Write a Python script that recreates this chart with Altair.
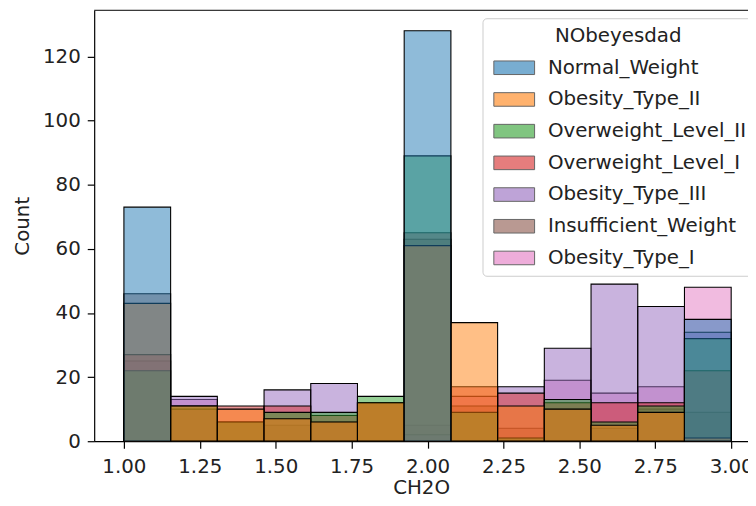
import altair as alt
import pandas as pd

categories = ["Normal_Weight", "Obesity_Type_II", "Overweight_Level_II", "Overweight_Level_I",
              "Obesity_Type_III", "Insufficient_Weight", "Obesity_Type_I"]
colors = ["#1f77b4", "#ff7f0e", "#2ca02c", "#d62728", "#9467bd", "#8c564b", "#e377c2"]

n_bins = 13
bin_lo, bin_hi = 1.0, 3.0

counts = {
    "Normal_Weight":       [73, 0, 0, 0, 0, 0, 128, 0, 0, 0, 0, 0, 38],
    "Obesity_Type_II":     [43, 11, 10, 7, 6, 12, 61, 37, 11, 10, 5, 9, 1],
    "Overweight_Level_II": [22, 11, 6, 9, 9, 14, 89, 9, 1, 13, 6, 11, 32],
    "Overweight_Level_I":  [27, 10, 11, 11, 8, 12, 65, 17, 15, 12, 12, 12, 22],
    "Obesity_Type_III":    [0, 14, 0, 16, 18, 0, 2, 0, 17, 29, 49, 42, 34],
    "Insufficient_Weight": [46, 11, 6, 5, 6, 12, 63, 11, 4, 10, 4, 10, 9],
    "Obesity_Type_I":      [25, 13, 6, 7, 6, 12, 5, 14, 1, 19, 15, 17, 48],
}

y_ticks = [0, 20, 40, 60, 80, 100, 120]
x_ticks = [1.00, 1.25, 1.50, 1.75, 2.00, 2.25, 2.50, 2.75, 3.00]

step = (bin_hi - bin_lo) / n_bins
rows = []
# seaborn draws hue levels in reverse order: last level at the bottom
for order, cat in enumerate(reversed(categories)):
    for i, c in enumerate(counts[cat]):
        rows.append({"cat": cat, "x0": bin_lo + i * step, "x1": bin_lo + (i + 1) * step,
                     "count": c, "ord": order})
df = pd.DataFrame(rows)

W, H = 660, 435
FONT = "DejaVu Sans"
FS = 20

xscale = alt.Scale(domain=[0.9021, 3.0554], nice=False, zero=False)
yscale = alt.Scale(domain=[0, 134.4], nice=False)

bars = alt.Chart(df).mark_bar(fillOpacity=0.5, stroke="black", strokeWidth=1.1, clip=True).encode(
    x=alt.X("x0:Q", scale=xscale,
            axis=alt.Axis(title="CH2O", values=x_ticks, format=".2f", grid=False)),
    x2="x1:Q",
    y=alt.Y("count:Q", scale=yscale,
            axis=alt.Axis(title="Count", values=y_ticks, grid=False)),
    y2=alt.datum(0),
    color=alt.Color("cat:N", scale=alt.Scale(domain=categories, range=colors),
                    legend=alt.Legend(
                        title="NObeyesdad", orient="none", legendX=392, legendY=8,
                        padding=8, fillColor="white", strokeColor="#cccccc", cornerRadius=4,
                        titleFontSize=FS, titleFontWeight="normal", titleAnchor="middle",
                        titleFont=FONT, titleColor="#222222", titlePadding=12,
                        labelFont=FONT, labelFontSize=FS, labelColor="#222222", labelLimit=400,
                        symbolType="M-3,-1H3V1H-3Z", symbolSize=188,
                        symbolStrokeColor="black", symbolStrokeWidth=1,
                        symbolOpacity=0.6, rowPadding=12, labelOffset=24, symbolOffset=14)),
    order=alt.Order("ord:Q"),
)

top_spine = alt.Chart(pd.DataFrame({"v": [0]})).mark_rule(color="black", strokeWidth=1).encode(
    x=alt.value(0), x2=alt.value(W), y=alt.value(0)
)

chart = alt.layer(bars, top_spine).properties(
    width=W, height=H,
    autosize=alt.AutoSizeParams(type="none"),
    padding={"left": 87, "top": 0, "right": 0, "bottom": 55},
).configure_view(stroke=None).configure_axis(
    labelFont=FONT, titleFont=FONT, labelFontSize=FS, titleFontSize=FS,
    titleFontWeight="normal", labelColor="#222222", titleColor="#222222",
    domainColor="black", tickColor="black", tickSize=7,
    domainWidth=1.2, tickWidth=1.2,
).configure_axisX(labelPadding=9, titlePadding=1).configure_axisY(labelPadding=7, titlePadding=10)

chart.save("out.html", embed_options={"renderer": "svg", "actions": False})
